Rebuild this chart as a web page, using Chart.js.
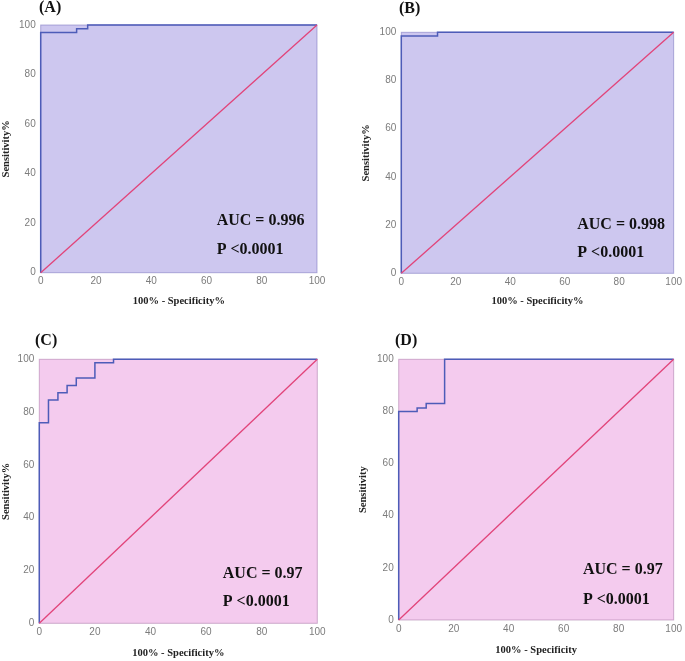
<!DOCTYPE html>
<html>
<head>
<meta charset="utf-8">
<script src="https://cdn.jsdelivr.net/npm/chart.js@4.4.1/dist/chart.umd.min.js"></script>
<style>
  html, body { margin: 0; padding: 0; background: #fff; }
  #wrap { position: relative; width: 685px; height: 661px; overflow: hidden; }
  .panel { position: absolute; }
</style>
</head>
<body>
<div id="wrap">
  <div class="panel" style="left:0;top:0;width:340px;height:310px"><canvas id="cA"></canvas></div>
  <div class="panel" style="left:340px;top:0;width:345px;height:310px"><canvas id="cB"></canvas></div>
  <div class="panel" style="left:0;top:320px;width:340px;height:341px"><canvas id="cC"></canvas></div>
  <div class="panel" style="left:340px;top:320px;width:345px;height:341px"><canvas id="cD"></canvas></div>
</div>
<script>
// ROC curves (100% - specificity %, sensitivity %)
let rocA_x = [0, 0, 13, 13, 17, 17, 100]
let rocA_y = [0, 97, 97, 98.5, 98.5, 100, 100]

let rocB_x = [0, 0, 13.3, 13.3, 100]
let rocB_y = [0, 98.5, 98.5, 100, 100]

let rocC_x = [0, 0, 3.3, 3.3, 6.7, 6.7, 10, 10, 13.3, 13.3, 20, 20, 26.7, 26.7, 100]
let rocC_y = [0, 76, 76, 84.6, 84.6, 87.3, 87.3, 90.1, 90.1, 92.9, 92.9, 98.7, 98.7, 100, 100]

let rocD_x = [0, 0, 6.7, 6.7, 10, 10, 16.7, 16.7, 100]
let rocD_y = [0, 80, 80, 81.3, 81.3, 83, 83, 100, 100]

// reference (chance) line
let chance_x = [0, 100]
let chance_y = [0, 100]

let panelLetters = ['(A)', '(B)', '(C)', '(D)']
let aucValues = ['0.996', '0.998', '0.97', '0.97']
let pValues = ['<0.0001', '<0.0001', '<0.0001', '<0.0001']
let xTitles = ['100% - Specificity%', '100% - Specificity%', '100% - Specificity%', '100% - Specificity']
let yTitles = ['Sensitivity%', 'Sensitivity%', 'Sensitivity%', 'Sensitivity']
let axisTicks = [0, 20, 40, 60, 80, 100]

function toPoints(xs, ys) {
    return xs.map(function (x, i) { return {x: x, y: ys[i]} })
}

// draws the plot background, the panel letter and the AUC note
let panelDeco = {
    id: 'panelDeco',
    beforeDraw(chart, args, opts) {
        let ctx = chart.ctx
        let a = chart.chartArea
        ctx.save()
        ctx.fillStyle = opts.bg
        ctx.fillRect(a.left, a.top, a.right - a.left, a.bottom - a.top)
        ctx.strokeStyle = opts.edge
        ctx.lineWidth = 1
        ctx.strokeRect(a.left, a.top, a.right - a.left, a.bottom - a.top)
        ctx.restore()
    },
    afterDraw(chart, args, opts) {
        let ctx = chart.ctx
        let xs = chart.scales.x, ys = chart.scales.y
        ctx.save()
        ctx.fillStyle = '#111'
        ctx.textBaseline = 'middle'
        ctx.textAlign = 'left'
        ctx.font = 'bold 16px "Liberation Serif", "Times New Roman", serif'
        ctx.fillText(opts.letter, opts.letterX, opts.letterY)
        ctx.font = 'bold 16px "Liberation Serif", "Times New Roman", serif'
        ctx.fillText('AUC = ' + opts.auc, xs.getPixelForValue(opts.noteX), ys.getPixelForValue(opts.noteY1))
        ctx.fillText('P ' + opts.p, xs.getPixelForValue(opts.noteX), ys.getPixelForValue(opts.noteY2))
        ctx.restore()
    }
}

let rocColor = '#4d5cb8'
let chanceColor = '#e2447a'

function makePanel(id, i, roc, look) {
    let ctx = document.getElementById(id).getContext('2d')
    return new Chart(ctx, {
        type: 'scatter',
        data: {
            datasets: [
                {
                    data: toPoints(chance_x, chance_y),
                    showLine: true,
                    borderColor: chanceColor,
                    borderWidth: 1.3,
                    pointRadius: 0,
                    clip: false
                },
                {
                    data: roc,
                    showLine: true,
                    borderColor: rocColor,
                    borderWidth: 1.5,
                    pointRadius: 0,
                    clip: false
                }
            ]
        },
        options: {
            responsive: true,
            maintainAspectRatio: false,
            animation: false,
            events: [],
            layout: { padding: { top: look.top, right: look.right, left: 0, bottom: 0 } },
            plugins: {
                legend: { display: false },
                tooltip: { enabled: false },
                panelDeco: {
                    bg: look.bg, edge: look.edge,
                    letter: panelLetters[i], letterX: look.letterX, letterY: look.letterY,
                    auc: aucValues[i], p: pValues[i],
                    noteX: look.noteX, noteY1: look.noteY1, noteY2: look.noteY2
                }
            },
            scales: {
                x: {
                    type: 'linear', min: 0, max: 100,
                    afterBuildTicks: function (s) { s.ticks = axisTicks.map(function (v) { return {value: v} }) },
                    afterFit: function (s) { s.height = look.xh },
                    grid: { display: false, drawTicks: false },
                    border: { display: false },
                    ticks: { color: '#7c7c7c', padding: 3, maxRotation: 0,
                             font: { family: '"Liberation Sans", Arial, sans-serif', size: 10 } },
                    title: { display: true, text: xTitles[i], color: '#222',
                             padding: { top: 0, bottom: look.xtp },
                             font: { family: '"Liberation Serif", "Times New Roman", serif', size: 10.5, weight: 'bold' } }
                },
                y: {
                    type: 'linear', min: 0, max: 100,
                    afterBuildTicks: function (s) { s.ticks = axisTicks.map(function (v) { return {value: v} }) },
                    afterFit: function (s) { s.width = look.yw },
                    grid: { display: false, drawTicks: false },
                    border: { display: false },
                    ticks: { color: '#7c7c7c', padding: 5,
                             font: { family: '"Liberation Sans", Arial, sans-serif', size: 10 } },
                    title: { display: true, text: yTitles[i], color: '#222',
                             padding: { top: look.ytp, bottom: 0 },
                             font: { family: '"Liberation Serif", "Times New Roman", serif', size: 10.5, weight: 'bold' } }
                }
            }
        },
        plugins: [panelDeco]
    })
}

let lavender = '#cdc7ef'
let pink = '#f4cbee'

makePanel('cA', 0, toPoints(rocA_x, rocA_y), {
    bg: lavender, edge: 'rgba(120,115,190,0.55)', top: 25, right: 23, yw: 40.7, xh: 37.3,
    ytp: 0, xtp: 2.7, letterX: 39, letterY: 8, noteX: 63.7, noteY1: 20.9, noteY2: 9.2
})
makePanel('cB', 1, toPoints(rocB_x, rocB_y), {
    bg: lavender, edge: 'rgba(120,115,190,0.55)', top: 32.3, right: 10.7, yw: 61.3, xh: 36.7,
    ytp: 20.4, xtp: 2, letterX: 59, letterY: 9, noteX: 64.6, noteY1: 20.3, noteY2: 8.3
})
makePanel('cC', 2, toPoints(rocC_x, rocC_y), {
    bg: pink, edge: 'rgba(170,120,170,0.55)', top: 39.3, right: 22.7, yw: 39.3, xh: 37.7,
    ytp: 0.4, xtp: 1.7, letterX: 35, letterY: 21, noteX: 66, noteY1: 18.9, noteY2: 8.2
})
makePanel('cD', 3, toPoints(rocD_x, rocD_y), {
    bg: pink, edge: 'rgba(170,120,170,0.55)', top: 39.3, right: 9.3, yw: 58.7, xh: 41,
    ytp: 17, xtp: 4.7, letterX: 55, letterY: 21, noteX: 67, noteY1: 19.2, noteY2: 7.9
})
</script>
</body>
</html>
